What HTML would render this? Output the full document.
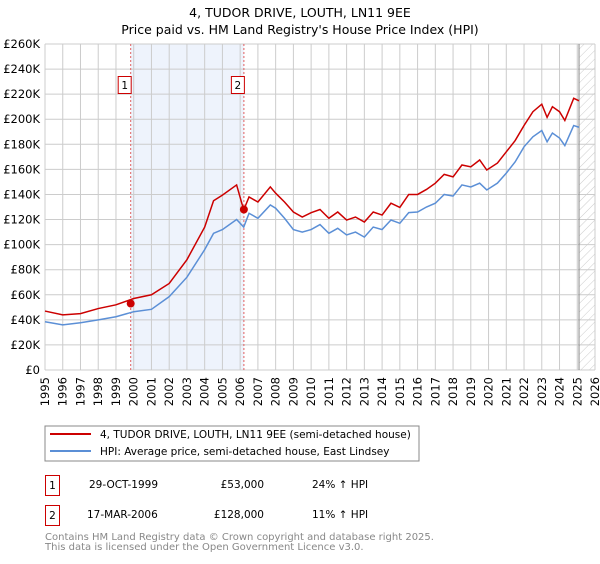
<!DOCTYPE html>
<html><head><meta charset="utf-8"><style>
body{margin:0;background:#fff;font-family:"DejaVu Sans","Liberation Sans",sans-serif;}
</style></head><body>
<svg id="c" width="600" height="560" xmlns="http://www.w3.org/2000/svg" font-family="DejaVu Sans, Liberation Sans, sans-serif">
<text x="300" y="17" text-anchor="middle" font-size="12.5">4, TUDOR DRIVE, LOUTH, LN11 9EE</text>
<text x="300" y="34" text-anchor="middle" font-size="12.5">Price paid vs. HM Land Registry's House Price Index (HPI)</text>
<defs><pattern id="hatch" width="6" height="6" patternUnits="userSpaceOnUse" patternTransform="rotate(45)"><line x1="0" y1="0" x2="0" y2="6" stroke="#ccc" stroke-width="1"/></pattern></defs>
<g id="plot"></g>
<rect x="45" y="426" width="374" height="35" fill="#fff" stroke="#888"/>
<line x1="50" y1="434" x2="91" y2="434" stroke="#cc0000" stroke-width="2"/>
<text x="100" y="438" font-size="10.5">4, TUDOR DRIVE, LOUTH, LN11 9EE (semi-detached house)</text>
<line x1="50" y1="451" x2="91" y2="451" stroke="#5b8fd6" stroke-width="2"/>
<text x="100" y="455" font-size="10.5">HPI: Average price, semi-detached house, East Lindsey</text>
<g font-size="10.5">
<rect x="45.5" y="475.5" width="14" height="20" fill="#fff" stroke="#cc0000"/>
<text x="52.5" y="489" text-anchor="middle">1</text>
<text x="89" y="488">29-OCT-1999</text>
<text x="264" y="488" text-anchor="end">£53,000</text>
<text x="312" y="488">24% ↑ HPI</text>
<rect x="45.5" y="505.5" width="14" height="20" fill="#fff" stroke="#cc0000"/>
<text x="52.5" y="519" text-anchor="middle">2</text>
<text x="87" y="518">17-MAR-2006</text>
<text x="264" y="518" text-anchor="end">£128,000</text>
<text x="312" y="518">11% ↑ HPI</text>
</g>
<text x="45" y="540" font-size="10" fill="#888">Contains HM Land Registry data © Crown copyright and database right 2025.</text>
<text x="45" y="550" font-size="10" fill="#888">This data is licensed under the Open Government Licence v3.0.</text>
</svg>
<script>
const yearTicks=[1995,1996,1997,1998,1999,2000,2001,2002,2003,2004,2005,2006,2007,2008,2009,2010,2011,2012,2013,2014,2015,2016,2017,2018,2019,2020,2021,2022,2023,2024,2025,2026];
const valueTicks=[0,20,40,60,80,100,120,140,160,180,200,220,240,260];
const hpiDates=[1995,1996,1997,1998,1999,2000,2001,2002,2003,2004,2004.5,2005,2005.8,2006.2,2006.5,2007,2007.7,2008,2008.5,2009,2009.5,2010,2010.5,2011,2011.5,2012,2012.5,2013,2013.5,2014,2014.5,2015,2015.5,2016,2016.5,2017,2017.5,2018,2018.5,2019,2019.5,2019.9,2020.5,2021,2021.5,2022,2022.5,2023,2023.3,2023.6,2024,2024.3,2024.8,2025.1];
const hpiValues=[38.5,36,37.7,40,42.5,46.5,48.4,58.5,74,96,109,112,120,114,125,121,131.6,129,121,112,110,112,116,109,113,107.7,110,106,114,112,119.6,117,125.5,126,130,133,140,138.7,147.6,146,149,143.6,149,157,166,178,186,191,182,189,185,179,195,193.6];
const propertyValues=[47,44,45,49,52,57,60,69,88,114,135,139.5,147.6,127.6,138,134,146,141,134,126,122,125.5,128,121,126,119.6,122,118,126,123.6,133,129.7,140,140,144,149,156,154,163.5,162,167.5,159.5,165,174,183,195,206,212,201.5,210,206,199,216.7,214.7];
const saleDates=[1999.83,2006.21];
const salePrices=[53,128];
const saleLabels=["1","2"];
const dataEnd=2025.1;

const X0=45,X1=595,Y0=370,Y1=44;
const x=t=>X0+(t-1995)*(X1-X0)/31;
const y=v=>Y0-v*(Y0-Y1)/260;
const NS="http://www.w3.org/2000/svg";
const g=document.getElementById('plot');
function el(tag,attrs,parent){const e=document.createElementNS(NS,tag);for(const k in attrs)e.setAttribute(k,attrs[k]);(parent||g).appendChild(e);return e;}

const band=el('rect',{x:x(saleDates[0]),y:Y1,width:x(saleDates[1])-x(saleDates[0]),height:Y0-Y1,fill:'#eef3fc'});


const hat=el('rect',{x:x(dataEnd),y:Y1,width:X1-x(dataEnd),height:Y0-Y1,fill:'url(#hatch)'});



yearTicks.forEach(t=>{
  const l=el('line',{x1:x(t),x2:x(t),y1:Y1,y2:Y0,stroke:'#cccccc','stroke-width':1});
  
  
  const tx=el('text',{x:0,y:0,'font-size':11.5,'text-anchor':'end',transform:`translate(${x(t)+4},${Y0+7}) rotate(-90)`});
  tx.textContent=t;
  
  
});
valueTicks.forEach(v=>{
  const l=el('line',{x1:X0,x2:X1,y1:y(v),y2:y(v),stroke:'#cccccc','stroke-width':1});
  
  
  const tx=el('text',{x:40,y:y(v)+4,'font-size':11.5,'text-anchor':'end'});
  tx.textContent=v===0?'£0':'£'+v+'K';
  
  
});
const endLine=el('line',{x1:x(dataEnd),x2:x(dataEnd),y1:Y1,y2:Y0,stroke:'#888','stroke-width':1});



saleDates.forEach((d,i)=>{
  const l=el('line',{x1:x(d),x2:x(d),y1:Y1,y2:Y0,stroke:'#e06060','stroke-width':1,'stroke-dasharray':'2,2'});
  
  
});

const hp=el('polyline',{points:hpiDates.map((d,i)=>x(d)+','+y(hpiValues[i])).join(' '),fill:'none',stroke:'#5b8fd6','stroke-width':1.5});


const pp=el('polyline',{points:hpiDates.map((d,i)=>x(d)+','+y(propertyValues[i])).join(' '),fill:'none',stroke:'#cc0000','stroke-width':1.5});



saleDates.forEach((d,i)=>{
  const c=el('circle',{cx:x(d),cy:y(salePrices[i]),r:4,fill:'#cc0000'});
  
  
  const bx=x(d)-13;
  const r=el('rect',{x:bx+0.5,y:76.5,width:13,height:17,fill:'#fff',stroke:'#cc0000'});
  
  
  const t=el('text',{x:bx+7,y:89,'font-size':10.5,'text-anchor':'middle'});
  t.textContent=saleLabels[i];
  
  
});
</script>
</body></html>
